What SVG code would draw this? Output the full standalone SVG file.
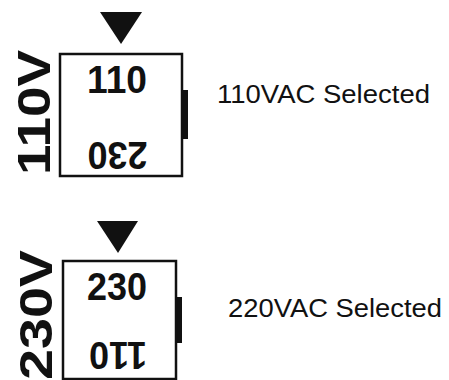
<svg xmlns="http://www.w3.org/2000/svg" width="449" height="380" viewBox="0 0 449 380">
<style>
.box{fill:#fff;stroke:#111;stroke-width:2.5}
.tab{fill:#111}
.tri{fill:#111}
.num{font-family:"Liberation Sans",Arial,sans-serif;font-weight:bold;font-size:39px;fill:#111}
.side{font-family:"Liberation Sans",Arial,sans-serif;font-weight:bold;font-size:46px;fill:#111}
.lbl{font-family:"Liberation Sans",Arial,sans-serif;font-size:25px;fill:#111}
</style>
<rect width="449" height="380" fill="#fff"/>
<g id="sw110">
<polygon class="tri" points="100,12 142,12 121,44"/>
<rect class="tab" x="181" y="90" width="7" height="49"/>
<rect class="box" x="60" y="54" width="122" height="122"/>
<text class="num" x="117" y="93" text-anchor="middle" textLength="60" lengthAdjust="spacingAndGlyphs">110</text>
<text class="num" transform="translate(117.5,142) rotate(180)" x="0" y="0" text-anchor="middle" textLength="60" lengthAdjust="spacingAndGlyphs">230</text>
<text class="side" transform="translate(50,175) rotate(-90)" x="0" y="0" textLength="125" lengthAdjust="spacingAndGlyphs">110V</text>
<text class="lbl" x="217" y="103" textLength="213" lengthAdjust="spacingAndGlyphs">110VAC  Selected</text>
</g>
<g id="sw230">
<polygon class="tri" points="97,221 138,221 118,253"/>
<rect class="tab" x="175" y="297" width="7" height="46"/>
<rect class="box" x="63" y="261" width="113" height="118"/>
<text class="num" x="117" y="300" text-anchor="middle" textLength="60" lengthAdjust="spacingAndGlyphs">230</text>
<text class="num" transform="translate(118,342) rotate(180)" x="0" y="0" text-anchor="middle" textLength="58" lengthAdjust="spacingAndGlyphs">110</text>
<text class="side" transform="translate(52,380) rotate(-90)" x="0" y="0" textLength="130" lengthAdjust="spacingAndGlyphs">230V</text>
<text class="lbl" x="228" y="317" textLength="214" lengthAdjust="spacingAndGlyphs">220VAC  Selected</text>
</g>
<g id="connectors"></g>
</svg>
